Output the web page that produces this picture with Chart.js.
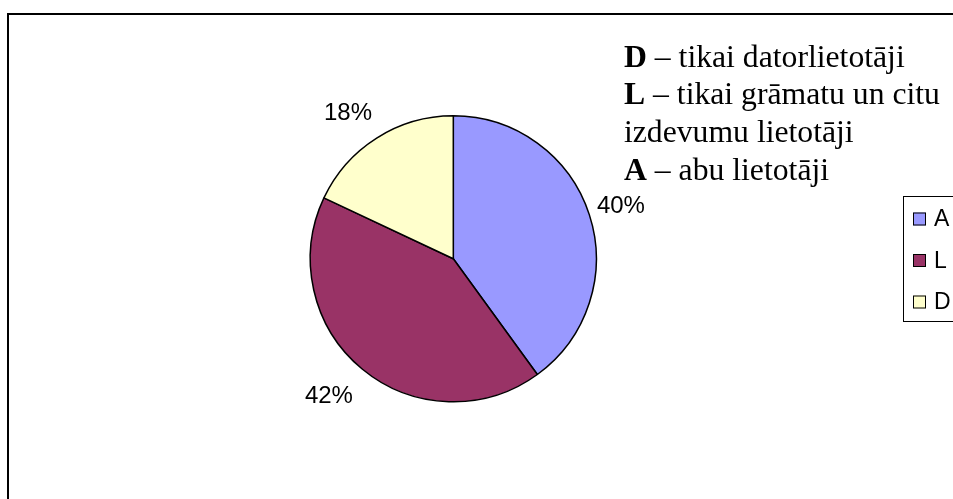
<!DOCTYPE html>
<html>
<head>
<meta charset="utf-8">
<script src="https://cdn.jsdelivr.net/npm/chart.js@4/dist/chart.umd.min.js"></script>
<style>
  html, body { margin: 0; padding: 0; width: 953px; height: 499px; overflow: hidden; background: #fff; }
  #frame { position: absolute; left: 7px; top: 13px; width: 1200px; height: 800px; border-top: 2px solid #000; border-left: 2px solid #000; box-sizing: border-box; }
  #wrap { position: absolute; left: 0; top: 0; width: 953px; height: 499px; }
  #note { position: absolute; left: 624px; top: 37.5px; font-family: "Liberation Serif", "Times New Roman", serif; font-size: 31.7px; line-height: 37.7px; color: #000; white-space: nowrap; }
  #note b { font-weight: bold; }
</style>
</head>
<body>
<div id="frame"></div>
<div id="wrap"><canvas id="c" width="953" height="499"></canvas></div>
<div id="note">
  <b>D</b> – tikai datorlietotāji<br>
  <b>L</b> – tikai grāmatu un citu<br>
  izdevumu lietotāji<br>
  <b>A</b> – abu lietotāji
</div>
<script>
const categories = ['A', 'L', 'D'];
const shares = [40, 42, 18];
const sliceColors = ['#9999FF', '#993366', '#FFFFCC'];

const labelFont = '24px "Liberation Sans", Arial, sans-serif';
// fine placement of the outside percentage labels (Excel "best fit")
const labelAngleShiftDeg = [0.2, 2.8, -3.25];
const labelRadiusFactor = [1.231, 1.290, 1.264];

const pctLabels = {
  id: 'pctLabels',
  afterDatasetsDraw(chart) {
    const ctx = chart.ctx;
    const meta = chart.getDatasetMeta(0);
    const data = chart.data.datasets[0].data;
    const total = data.reduce((a, b) => a + b, 0);
    ctx.save();
    ctx.font = labelFont;
    ctx.fillStyle = '#000';
    ctx.textAlign = 'center';
    ctx.textBaseline = 'middle';
    meta.data.forEach((arc, i) => {
      const p = arc.getProps(['x', 'y', 'startAngle', 'endAngle', 'outerRadius'], true);
      const mid = (p.startAngle + p.endAngle) / 2 + labelAngleShiftDeg[i] * Math.PI / 180;
      const d = p.outerRadius * labelRadiusFactor[i];
      const x = p.x + Math.cos(mid) * d;
      const y = p.y + Math.sin(mid) * d;
      ctx.fillText(Math.round(data[i] / total * 100) + '%', x, y + 1);
    });
    ctx.restore();
  }
};

const boxLegend = {
  id: 'boxLegend',
  afterDraw(chart) {
    const ctx = chart.ctx;
    const ds = chart.data.datasets[0];
    ctx.save();
    ctx.strokeStyle = '#000';
    ctx.lineWidth = 1;
    ctx.strokeRect(903.5, 196.5, 80, 125);
    ctx.font = '23px "Liberation Sans", Arial, sans-serif';
    ctx.textBaseline = 'middle';
    ctx.textAlign = 'left';
    chart.data.labels.forEach((lab, i) => {
      const cy = 219 + i * 41.5;
      ctx.fillStyle = ds.backgroundColor[i];
      ctx.fillRect(913, cy - 6.5, 13, 13);
      ctx.strokeStyle = '#000';
      ctx.strokeRect(913.5, cy - 6, 12, 12);
      ctx.fillStyle = '#000';
      ctx.fillText(lab, 934, cy + 1);
    });
    ctx.restore();
  }
};

new Chart(document.getElementById('c'), {
  type: 'pie',
  data: {
    labels: categories,
    datasets: [{
      data: shares,
      backgroundColor: sliceColors,
      borderColor: '#000',
      borderWidth: 1.5
    }]
  },
  options: {
    responsive: false,
    animation: false,
    radius: 143,
    layout: { padding: { left: 0, right: 46.4, top: 18.6, bottom: 0 } },
    plugins: {
      legend: { display: false },
      tooltip: { enabled: false },
      title: { display: false }
    }
  },
  plugins: [pctLabels, boxLegend]
});
</script>
</body>
</html>
